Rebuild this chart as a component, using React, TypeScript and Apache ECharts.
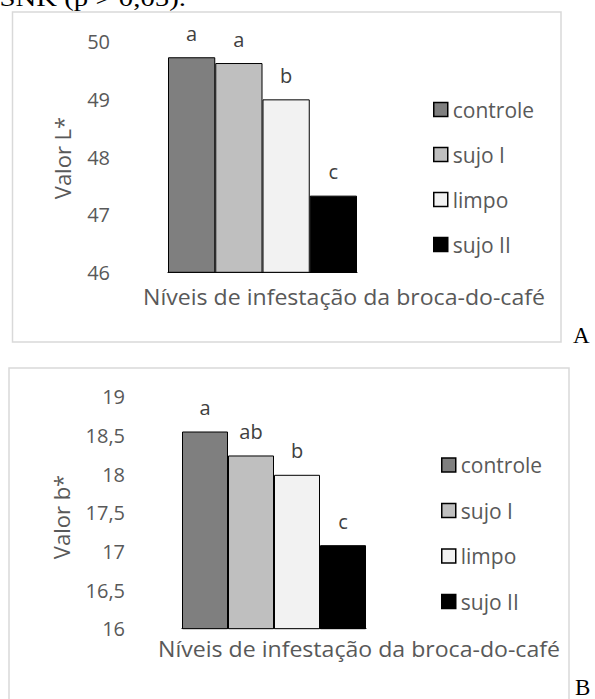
import React, { useEffect, useRef } from "react";
import * as echarts from "echarts";

const seriesNames = ["controle", "sujo I", "limpo", "sujo II"];
const seriesColors = ["#7f7f7f", "#bfbfbf", "#f2f2f2", "#000000"];
const valuesL = [49.73, 49.63, 49.0, 47.33];
const valuesB = [18.55, 18.24, 17.99, 17.08];
const lettersL = ["a", "a", "b", "c"];
const lettersB = ["a", "ab", "b", "c"];
const categories = [""];
const xTitle = "Níveis de infestação da broca-do-café";

const FONT = "'Open Sans', sans-serif";
const GRAY = "#595959";

export default function App() {
  const ref = useRef<HTMLDivElement>(null);
  useEffect(() => {
    if (!ref.current) return;
    const chart = echarts.init(ref.current, null, { renderer: "svg" });

    const mkSeries = (vals: number[], letters: string[], axis: number) =>
      vals.map((v, i) => ({
        type: "bar",
        name: seriesNames[i],
        xAxisIndex: axis,
        yAxisIndex: axis,
        data: [v],
        barGap: "0%",
        barCategoryGap: "0%",
        itemStyle: { color: seriesColors[i], borderColor: "#000", borderWidth: 1 },
        label: {
          show: true,
          position: "top",
          distance: 14,
          formatter: () => letters[i],
          fontFamily: FONT,
          fontSize: 20,
          color: "#404040",
        },
      }));

    const legendCommon = {
      orient: "vertical",
      data: seriesNames,
      icon: "rect",
      itemWidth: 14,
      itemHeight: 14,
      padding: 0,
      itemStyle: { borderColor: "#000", borderWidth: 1.5 },
      textStyle: { fontFamily: FONT, fontSize: 21, color: GRAY },
      selectedMode: false,
    };

    const titleText = (x: number, y: number) => ({
      type: "text",
      x,
      y,
      scaleX: 1.1,
      style: { text: xTitle, fontFamily: FONT, fontSize: 21, fill: GRAY, align: "center", verticalAlign: "middle" },
    });

    chart.setOption({
      animation: false,
      backgroundColor: "#fff",
      grid: [
        { left: 168, top: 41.7, width: 189, height: 230.6 },
        { left: 182, top: 396.7, width: 184, height: 232 },
      ],
      xAxis: [0, 1].map((g) => ({
        type: "category",
        gridIndex: g,
        data: categories,
        axisLine: { show: true, lineStyle: { color: "#000", width: 1 } },
        axisTick: { show: false },
        axisLabel: { show: false },
      })),
      yAxis: [
        {
          type: "value",
          gridIndex: 0,
          min: 46,
          max: 50,
          interval: 1,
          axisLine: { show: false },
          axisTick: { show: false },
          splitLine: { show: false },
          axisLabel: { fontFamily: FONT, fontSize: 20, color: GRAY, margin: 58 },
        },
        {
          type: "value",
          gridIndex: 1,
          min: 16,
          max: 19,
          interval: 0.5,
          axisLine: { show: false },
          axisTick: { show: false },
          splitLine: { show: false },
          axisLabel: {
            fontFamily: FONT,
            fontSize: 20,
            color: GRAY,
            margin: 57,
            formatter: (v: number) => String(v).replace(".", ","),
          },
        },
      ],
      legend: [
        { ...legendCommon, left: 433, top: 99, itemGap: 24 },
        { ...legendCommon, left: 441, top: 454.5, itemGap: 24.5 },
      ],
      series: [...mkSeries(valuesL, lettersL, 0), ...mkSeries(valuesB, lettersB, 1)],
      graphic: [
        {
          type: "rect",
          shape: { x: 12.5, y: 12, width: 548.5, height: 330 },
          style: { fill: "none", stroke: "#d9d9d9", lineWidth: 1.5 },
          silent: true,
        },
        {
          type: "rect",
          shape: { x: 9, y: 368, width: 560, height: 340 },
          style: { fill: "none", stroke: "#d9d9d9", lineWidth: 1.5 },
          silent: true,
        },
        {
          type: "text",
          x: 186,
          y: -2,
          scaleX: 1.2,
          style: {
            text: "SNK (p > 0,05).",
            font: "24px 'Liberation Serif', serif",
            fill: "#000",
            align: "right",
            verticalAlign: "middle",
          },
        },
        titleText(344, 296),
        titleText(359, 648),
        {
          type: "text",
          x: 61.5,
          y: 158,
          rotation: Math.PI / 2,
          style: { text: "Valor L*", fontFamily: FONT, fontSize: 22, fill: GRAY, align: "center", verticalAlign: "middle" },
        },
        {
          type: "text",
          x: 60.5,
          y: 517,
          rotation: Math.PI / 2,
          style: { text: "Valor b*", fontFamily: FONT, fontSize: 22, fill: GRAY, align: "center", verticalAlign: "middle" },
        },
        {
          type: "text",
          x: 573,
          y: 335,
          style: { text: "A", font: "23px 'Liberation Serif', serif", fill: "#000", align: "left", verticalAlign: "middle" },
        },
        {
          type: "text",
          x: 575,
          y: 687,
          style: { text: "B", font: "23px 'Liberation Serif', serif", fill: "#000", align: "left", verticalAlign: "middle" },
        },
      ],
    });
    return () => chart.dispose();
  }, []);
  return (
    <div
      ref={ref}
      style={{ position: "absolute", left: 0, top: 0, width: 595, height: 699, background: "#fff" }}
    />
  );
}
